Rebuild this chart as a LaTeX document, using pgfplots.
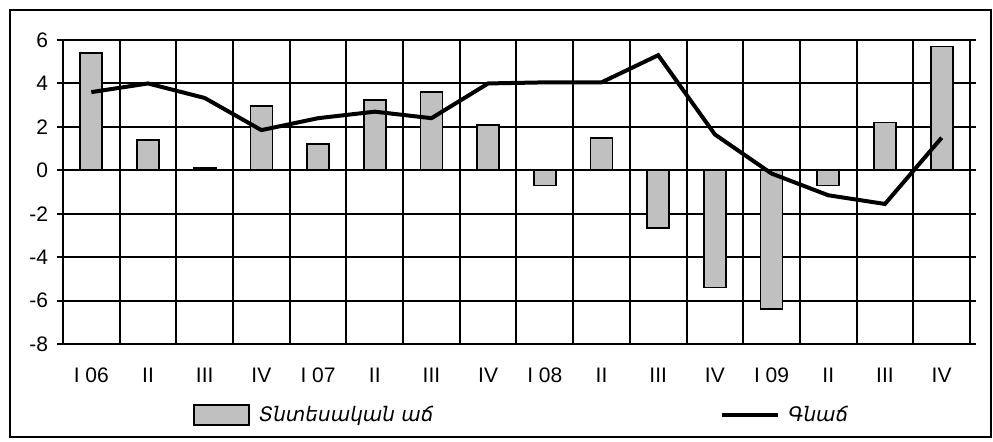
\documentclass[border=0pt]{standalone}
\usepackage{fontspec}
\setmainfont{Liberation Sans}
\newfontfamily\armfont{DejaVu Sans}
\usepackage{pgfplots}
\pgfplotsset{compat=1.18}
\definecolor{barg}{RGB}{192,192,192}
\begin{document}
\begin{tikzpicture}
\path (-31.5pt,-48.5pt) rectangle (465pt,172pt);
\begin{axis}[at={(0,0)}, anchor=south west,
  scale only axis, width=453.5pt, height=152pt,
  xmin=0.5, xmax=16.5, ymin=-8, ymax=6,
  ytick={-8,-6,...,6},
  xtick={1,...,16},
  xticklabels={I 06,II,III,IV,I 07,II,III,IV,I 08,II,III,IV,I 09,II,III,IV},
  minor xtick={1.5,2.5,...,15.5},
  xminorgrids, ymajorgrids,
  grid style={black, line width=1pt},
  minor grid style={black, line width=1pt},
  axis line style={line width=1.1pt},
  tick align=outside, major tick length=3pt, minor tick length=0pt,
  xtick style={draw=none},
  ytick style={black, line width=1pt},
  tick label style={font=\fontsize{10.5}{12}\selectfont},
  yticklabel style={xshift=-1pt},
  xticklabel style={yshift=-5.5pt},
  /pgf/number format/assume math mode=true,
  legend columns=2,
  legend style={at={(0.1433,-0.2336)}, anchor=west, draw=none, fill=none,
    inner sep=0pt, font=\fontsize{10}{11}\selectfont\armfont\itshape,
    /tikz/every odd column/.append style={column sep=2.5pt},
    /tikz/every even column/.append style={column sep=141pt}},
]
\addplot[ybar, bar width=11pt, fill=barg, draw=black, line width=0.9pt,
  legend image code/.code={\draw[fill=barg, draw=black, line width=0.9pt] (0pt,-5pt) rectangle (27.5pt,5pt);}]
  coordinates {(1,5.4)(2,1.4)(3,0.1)(4,2.95)(5,1.2)(6,3.25)(7,3.6)(8,2.1)
    (9,-0.7)(10,1.5)(11,-2.65)(12,-5.4)(13,-6.4)(14,-0.7)(15,2.2)(16,5.7)};
\addlegendentry{Տնտեսական աճ}
\addplot[black, line width=2pt, mark=none,
  legend image code/.code={\draw[black, line width=2pt] (0pt,0pt) -- (28pt,0pt);}]
  coordinates {(1,3.6)(2,4.0)(3,3.33)(4,1.85)(5,2.4)(6,2.7)(7,2.4)(8,4.0)
    (9,4.05)(10,4.05)(11,5.3)(12,1.65)(13,-0.15)(14,-1.15)(15,-1.55)(16,1.5)};
\addlegendentry{Գնաճ}
\end{axis}
\draw[line width=1pt] (-26.5pt,-46.5pt) rectangle (464pt,167pt);
\end{tikzpicture}
\end{document}
